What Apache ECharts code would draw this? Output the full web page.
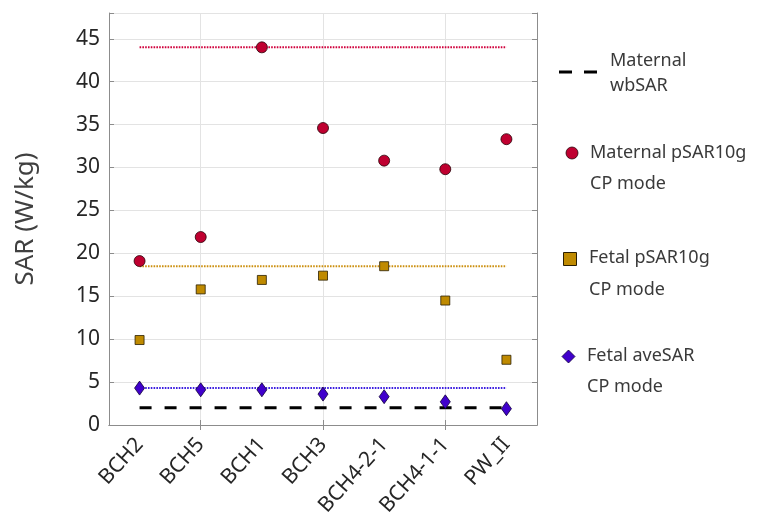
<!DOCTYPE html>
<html><head><meta charset="utf-8">
<script src="https://cdn.jsdelivr.net/npm/echarts@6/dist/echarts.min.js"></script>
<style>html,body{margin:0;padding:0;background:#fff}#c{width:760px;height:530px}</style>
</head><body><div id="c"></div>
<script>
const categories = ['BCH2', 'BCH5', 'BCH1', 'BCH3', 'BCH4-2-1', 'BCH4-1-1', 'PW_II'];
const maternalPSAR = [19.1, 21.9, 44.0, 34.6, 30.8, 29.8, 33.3];
const fetalPSAR = [9.9, 15.8, 16.9, 17.4, 18.5, 14.5, 7.6];
const fetalAveSAR = [4.3, 4.1, 4.1, 3.6, 3.3, 2.7, 1.9];
const maternalWbLimit = 2;
const maternalPSARMax = 44;
const fetalPSARMax = 18.5;
const fetalAveSARMax = 4.3;
const yMin = 0, yMax = 48, yStep = 5;

const FONT = 'Noto Sans';
const TXT = '#262626';
const LEG = '#3a3a3a';
const FRAME = '#8c8c8c';
const GRID = '#e3e3e3';
const RED = '#bf0030', GOLD = '#bf8a00', BLUE = '#4000cc';
const LFONT = '18px "Noto Sans"';

const chart = echarts.init(document.getElementById('c'), null, {renderer: 'canvas'});
const everyOther = (i) => i % 2 === 1;
const hLine = (v) => [[categories[0], v], [categories[categories.length - 1], v]];

const option = {
  animation: false,
  backgroundColor: '#fff',
  textStyle: {fontFamily: FONT},
  grid: {left: 109, right: 223, top: 13, bottom: 105, containLabel: false},
  xAxis: [{
    type: 'category', data: categories, position: 'bottom', boundaryGap: true,
    axisLine: {show: true, lineStyle: {color: FRAME, width: 1}},
    axisTick: {show: true, inside: true, length: 5, alignWithLabel: true, interval: everyOther, lineStyle: {color: FRAME}},
    splitLine: {show: true, interval: everyOther, alignWithLabel: true, lineStyle: {color: GRID, width: 1}},
    axisLabel: {interval: 0, rotate: 48, fontSize: 21, color: TXT, fontFamily: FONT, margin: 16, align: 'right', verticalAlign: 'middle'}
  }, {
    type: 'category', data: categories, position: 'top', boundaryGap: true,
    axisLine: {show: true, lineStyle: {color: FRAME, width: 1}},
    axisTick: {show: true, inside: true, length: 5, alignWithLabel: true, interval: everyOther, lineStyle: {color: FRAME}},
    axisLabel: {show: false}, splitLine: {show: false}
  }],
  yAxis: [{
    type: 'value', min: yMin, max: yMax, interval: yStep, position: 'left',
    name: 'SAR (W/kg)', nameLocation: 'middle', nameGap: 70, nameRotate: 90,
    nameTextStyle: {fontSize: 26, color: '#404040', fontFamily: FONT},
    axisLine: {show: true, lineStyle: {color: FRAME, width: 1}},
    axisTick: {show: true, inside: true, length: 5, lineStyle: {color: FRAME}},
    splitLine: {show: true, lineStyle: {color: GRID, width: 1}},
    axisLabel: {fontSize: 21, color: TXT, fontFamily: FONT, margin: 9,
      formatter: (v) => (v % yStep === 0 ? String(v) : '')}
  }, {
    type: 'value', min: yMin, max: yMax, interval: yStep, position: 'right',
    axisLine: {show: true, lineStyle: {color: FRAME, width: 1}},
    axisTick: {show: true, inside: true, length: 5, lineStyle: {color: FRAME}},
    splitLine: {show: false}, axisLabel: {show: false}
  }],
  series: [
    {type: 'line', name: 'Maternal wbSAR', data: hLine(maternalWbLimit), symbol: 'none', z: 3,
      lineStyle: {color: '#000', width: 3, type: [12, 13]}},
    {type: 'line', name: 'Maternal pSAR10g max', data: hLine(maternalPSARMax), symbol: 'none', z: 3,
      lineStyle: {color: '#d0003c', width: 2, type: [1.6, 1.2]}},
    {type: 'line', name: 'Fetal pSAR10g max', data: hLine(fetalPSARMax), symbol: 'none', z: 3,
      lineStyle: {color: '#cc9010', width: 2, type: [1.6, 1.2]}},
    {type: 'line', name: 'Fetal aveSAR max', data: hLine(fetalAveSARMax), symbol: 'none', z: 3,
      lineStyle: {color: '#3c1ee0', width: 2, type: [1.6, 1.2]}},
    {type: 'scatter', name: 'Maternal pSAR10g CP mode', data: maternalPSAR, symbol: 'circle', symbolSize: 11, z: 5,
      itemStyle: {color: RED, opacity: 1, borderColor: '#2a0008', borderWidth: 0.8}},
    {type: 'scatter', name: 'Fetal pSAR10g CP mode', data: fetalPSAR, symbol: 'rect', symbolSize: 9, z: 5,
      itemStyle: {color: GOLD, opacity: 1, borderColor: '#2a1e00', borderWidth: 0.8}},
    {type: 'scatter', name: 'Fetal aveSAR CP mode', data: fetalAveSAR, symbol: 'diamond', symbolSize: [10, 14], z: 6,
      itemStyle: {color: BLUE, opacity: 1, borderColor: '#10003a', borderWidth: 0.8}}
  ],
  graphic: [
    {type: 'line', shape: {x1: 559, y1: 72, x2: 597, y2: 72}, style: {stroke: '#000', lineWidth: 3, lineDash: [13, 12]}},
    {type: 'text', x: 610, y: 61, style: {text: 'Maternal', font: LFONT, fill: LEG, verticalAlign: 'middle'}},
    {type: 'text', x: 610, y: 86, style: {text: 'wbSAR', font: LFONT, fill: LEG, verticalAlign: 'middle'}},
    {type: 'circle', shape: {cx: 572, cy: 153, r: 6}, style: {fill: RED, stroke: '#2a0008', lineWidth: 0.8}},
    {type: 'text', x: 590, y: 153, style: {text: 'Maternal pSAR10g', font: LFONT, fill: LEG, verticalAlign: 'middle'}},
    {type: 'text', x: 590, y: 184, style: {text: 'CP mode', font: LFONT, fill: LEG, verticalAlign: 'middle'}},
    {type: 'rect', shape: {x: 563.5, y: 252.5, width: 13, height: 13}, style: {fill: GOLD, stroke: '#2a1e00', lineWidth: 1}},
    {type: 'text', x: 589, y: 258, style: {text: 'Fetal pSAR10g', font: LFONT, fill: LEG, verticalAlign: 'middle'}},
    {type: 'text', x: 589, y: 290, style: {text: 'CP mode', font: LFONT, fill: LEG, verticalAlign: 'middle'}},
    {type: 'polygon', shape: {points: [[568.5, 350], [575, 356.5], [568.5, 363], [562, 356.5]]}, style: {fill: BLUE, stroke: '#10003a', lineWidth: 0.8}},
    {type: 'text', x: 587, y: 356, style: {text: 'Fetal aveSAR', font: LFONT, fill: LEG, verticalAlign: 'middle'}},
    {type: 'text', x: 587, y: 387, style: {text: 'CP mode', font: LFONT, fill: LEG, verticalAlign: 'middle'}}
  ]
};
chart.setOption(option);
</script></body></html>
